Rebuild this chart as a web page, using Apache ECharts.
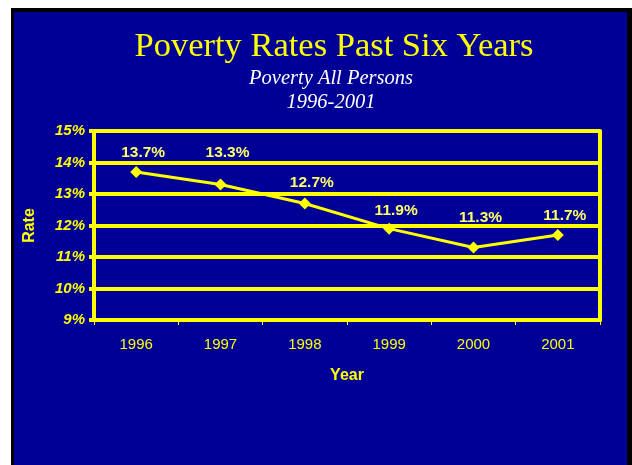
<!DOCTYPE html>
<html>
<head>
<meta charset="utf-8">
<script src="https://cdn.jsdelivr.net/npm/echarts@6/dist/echarts.min.js"></script>
<style>
html,body{margin:0;padding:0;background:#ffffff;}
#chart{width:632px;height:465px;}
</style>
</head>
<body>
<div id="chart"></div>
<script>
const years = ['1996', '1997', '1998', '1999', '2000', '2001'];
const rates = [13.7, 13.3, 12.7, 11.9, 11.3, 11.7];
const yMin = 9, yMax = 15, yStep = 1;
const titleText = 'Poverty Rates Past Six Years';
const subtitleLine1 = 'Poverty All Persons';
const subtitleLine2 = '1996-2001';
const labelDistances = [5, 18, 7, 4, 16, 5];

const YEL = '#ffff00';
const chart = echarts.init(document.getElementById('chart'), null, {renderer: 'canvas'});
chart.setOption({
  backgroundColor: '#ffffff',
  animation: false,
  graphic: [
    {type: 'rect', z: -10, shape: {x: 11, y: 8, width: 621, height: 457}, style: {fill: '#000000'}},
    {type: 'rect', z: -9, shape: {x: 14, y: 12, width: 613, height: 453}, style: {fill: '#000096'}},
    {type: 'text', style: {x: 334, y: 47, text: titleText, fill: YEL, align: 'center', verticalAlign: 'middle', font: '34.5px "Liberation Serif", "Times New Roman", serif'}},
    {type: 'text', style: {x: 331, y: 79, text: subtitleLine1, fill: '#ffffff', align: 'center', verticalAlign: 'middle', font: 'italic 20.5px "Liberation Serif", "Times New Roman", serif'}},
    {type: 'text', style: {x: 331, y: 103, text: subtitleLine2, fill: '#ffffff', align: 'center', verticalAlign: 'middle', font: 'italic 20.5px "Liberation Serif", "Times New Roman", serif'}}
  ],
  grid: {left: 94, right: 32, top: 131, bottom: 145},
  xAxis: {
    type: 'category',
    data: years,
    boundaryGap: true,
    name: 'Year',
    nameLocation: 'middle',
    nameGap: 48,
    nameTextStyle: {color: YEL, fontFamily: 'Liberation Sans, Arial', fontWeight: 'bold', fontSize: 16},
    axisLine: {lineStyle: {color: YEL, width: 4}},
    axisTick: {show: true, length: 5, lineStyle: {color: YEL, width: 1}},
    axisLabel: {color: YEL, fontFamily: 'Liberation Sans, Arial', fontSize: 15, margin: 17},
    splitLine: {show: false}
  },
  yAxis: [{
    type: 'value',
    min: yMin, max: yMax, interval: yStep,
    name: 'Rate',
    nameLocation: 'middle',
    nameGap: 56,
    nameRotate: 90,
    nameTextStyle: {color: YEL, fontFamily: 'Liberation Sans, Arial', fontWeight: 'bold', fontSize: 16},
    axisLine: {show: true, lineStyle: {color: YEL, width: 4}},
    axisTick: {show: true, length: 5, lineStyle: {color: YEL, width: 4}},
    axisLabel: {color: YEL, fontFamily: 'Liberation Sans, Arial', fontWeight: 'bold', fontStyle: 'italic', fontSize: 15, margin: 9, formatter: '{value}%'},
    splitLine: {show: true, lineStyle: {color: YEL, width: 4}}
  }, {
    type: 'value',
    position: 'right',
    min: yMin, max: yMax, interval: yStep,
    axisLine: {show: true, lineStyle: {color: YEL, width: 4}},
    axisTick: {show: false},
    axisLabel: {show: false},
    splitLine: {show: false}
  }],
  series: [{
    type: 'line',
    data: rates.map((v, i) => ({value: v, label: {distance: labelDistances[i]}})),
    symbol: 'diamond',
    symbolSize: 12,
    lineStyle: {color: YEL, width: 3},
    itemStyle: {color: YEL},
    label: {
      show: true,
      position: 'top',
      offset: [7, 0],
      color: '#ffff66',
      fontFamily: 'Liberation Sans, Arial',
      fontWeight: 'bold',
      fontSize: 15.5,
      formatter: p => p.value.toFixed(1) + '%'
    },
    z: 5
  }]
});
</script>
</body>
</html>
